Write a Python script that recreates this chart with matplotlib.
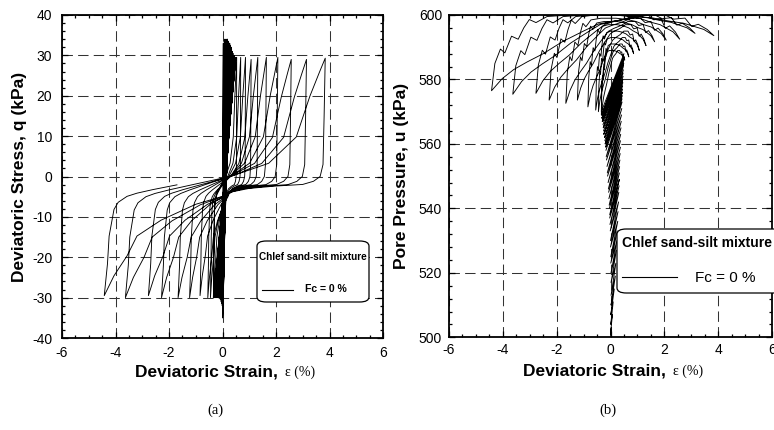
import matplotlib
matplotlib.use("Agg")
import matplotlib.pyplot as plt
from matplotlib.patches import FancyBboxPatch
from matplotlib.lines import Line2D
from matplotlib.ticker import MultipleLocator

plt.rcParams['font.family'] = ['Liberation Sans', 'DejaVu Sans']
plt.rcParams['axes.unicode_minus'] = False

# --- pre-liquefaction cycles ---
early_hi_strain = [0.03, 0.07, 0.10, 0.14, 0.18, 0.20, 0.22, 0.24, 0.25, 0.27, 0.28, 0.30,
                   0.31, 0.32, 0.33, 0.33, 0.34, 0.35, 0.36, 0.37, 0.37, 0.38, 0.39, 0.40,
                   0.41, 0.42, 0.43, 0.43, 0.44, 0.44, 0.45, 0.45, 0.46, 0.46, 0.47, 0.47,
                   0.48, 0.48, 0.49, 0.49, 0.49, 0.49, 0.50, 0.50, 0.50]
early_lo_strain = [0.00, 0.01, 0.01, 0.02, 0.02, 0.02, 0.02, 0.01, 0.01, 0.00, 0.00, -0.01,
                   -0.02, -0.03, -0.03, -0.04, -0.05, -0.06, -0.07, -0.08, -0.09, -0.11,
                   -0.12, -0.13, -0.15, -0.16, -0.17, -0.18, -0.19, -0.20, -0.21, -0.22,
                   -0.24, -0.25, -0.26, -0.27, -0.28, -0.29, -0.30, -0.31, -0.31, -0.32,
                   -0.32, -0.33, -0.34]
early_hi_q = [33.0, 34.0, 34.0, 34.0, 34.0, 33.5, 33.5, 33.0, 33.0, 33.0, 32.5, 32.5,
              32.0, 32.0, 32.0, 31.5, 31.5, 31.0, 31.0, 31.0, 30.5, 30.5, 30.5, 30.0,
              30.0, 30.0, 30.0, 30.0, 29.5, 29.5, 29.5, 29.5, 29.5, 29.5, 29.5, 29.5,
              29.5, 29.5, 29.5, 29.5, 29.5, 29.5, 29.5, 29.5, 29.5]
early_lo_q = [-35.0, -35.0, -34.5, -34.0, -34.0, -33.5, -33.0, -33.0, -32.5, -32.5, -32.0, -32.0,
              -31.5, -31.5, -31.0, -31.0, -31.0, -30.5, -30.5, -30.5, -30.0, -30.0, -30.0, -30.0,
              -30.0, -30.0, -30.0, -30.0, -30.0, -30.0, -30.0, -30.0, -30.0, -30.0, -30.0, -30.0,
              -30.0, -30.0, -30.0, -30.0, -30.0, -30.0, -30.0, -30.0, -30.0]
early_hi_u = [503, 507, 511, 515, 519, 523, 527, 530, 533, 536, 539, 542,
              545, 547, 549, 551, 553, 555, 557, 559, 561, 563, 565, 567,
              569, 571, 573, 574, 575, 576, 577, 578, 579, 580, 581, 582,
              583, 584, 585, 585, 586, 586, 587, 587, 588]
early_lo_u = [501, 504, 507, 510, 513, 517, 520, 523, 525, 528, 530, 533,
              535, 537, 538, 540, 541, 543, 545, 546, 548, 550, 551, 553,
              555, 556, 558, 559, 560, 560, 561, 562, 563, 563, 564, 565,
              566, 567, 567, 567, 568, 568, 569, 569, 570]

# --- large post-liquefaction cycles ---
big_hi_strain = [0.53, 0.68, 0.86, 1.07, 1.32, 1.64, 2.07, 2.57, 3.14, 3.84]
big_lo_strain = [-0.34, -0.45, -0.55, -0.84, -1.23, -1.66, -2.28, -2.77, -3.63, -4.42]
big_hi_q = [29.5, 29.5, 29.5, 29.0, 29.5, 29.5, 29.5, 29.0, 29.0, 29.3]
big_lo_q = [-30.0, -30.0, -30.0, -29.5, -30.0, -30.0, -30.0, -29.5, -30.0, -29.5]
big_hi_u = [586.0, 587.0, 588.0, 589.0, 590.5, 591.7, 592.2, 592.5, 594.3, 593.6]
big_lo_u = [569.0, 570.0, 570.5, 571.5, 573.6, 572.6, 573.6, 575.7, 575.4, 576.5]
big_top_u = [589.0, 591.0, 593.0, 595.0, 597.0, 598.0, 599.0, 600.0, 600.0, 600.0]

# last, unfinished extension after the -4.42 % peak
tail_end_fraction = 0.52
tail_top_u = 600.0

# loop shape read from the widest cycle (fraction of strain span, q in kPa)
ext_s = [0.0, 0.0145, 0.022, 0.044, 0.063, 0.103, 0.148, 0.22, 0.329, 0.523,
         0.584, 0.717, 0.855, 0.923, 0.971, 1.0]
ext_q = [-30.0, -22.0, -15.0, -8.3, -6.5, -5.0, -4.2, -3.3, -2.1, 0.0,
         1.0, 3.3, 9.85, 20.0, 26.0, 29.5]
comp_s = [0.0, 0.005, 0.010, 0.023, 0.053, 0.102, 0.223, 0.344, 0.416, 0.465,
          0.586, 0.743, 0.852, 0.897, 0.956, 1.0]
comp_q = [29.5, 15.0, 3.0, 0.0, -1.2, -2.0, -2.4, -3.0, -3.8, -5.0,
          -7.0, -11.0, -15.0, -20.0, -25.0, -30.0]

# pore pressure shape: weight toward plateau (rise part) then away from it (fall part)
ext_u_s = [0.0, 0.015, 0.04, 0.06, 0.09, 0.12, 0.145, 0.17, 0.2, 0.25, 0.35,
           0.5, 0.6, 0.7, 0.78, 0.85, 0.9, 0.95, 1.0]
ext_u_w = [0.0, 0.36, 0.55, 0.5, 0.72, 0.68, 0.83, 0.94, 0.9, 0.98, 1.0,
           0.0, 0.05, 0.15, 0.3, 0.4, 0.55, 0.7, 1.0]
comp_u_s = [0.0, 0.03, 0.07, 0.1, 0.13, 0.18, 0.22, 0.3, 0.38, 0.46, 0.52,
            0.585, 0.68, 0.767, 0.84, 0.9, 0.952, 1.0]
comp_u_w = [0.0, 0.3, 0.55, 0.45, 0.85, 0.8, 1.0, 0.0, 0.05, 0.085, 0.12,
            0.21, 0.35, 0.51, 0.62, 0.72, 0.84, 1.0]


def scale_q(tq, q_lo, q_hi):
  if tq < 0:
    return tq * abs(q_lo) / 30.0
  return tq * q_hi / 29.5


def add_extension(paths, e0, e1, q_lo, q_hi, u_lo, top, u_hi, s_max=1.0):
  e_q, q, e_u, u = paths
  for s, tq in zip(ext_s, ext_q):
    if s > s_max:
      break
    e_q.append(e0 + s * (e1 - e0))
    q.append(scale_q(tq, q_lo, q_hi))
  for s, w in zip(ext_u_s, ext_u_w):
    if s > s_max:
      break
    e_u.append(e0 + s * (e1 - e0))
    if s <= 0.45:
      u.append(u_lo + (top - u_lo) * w)
    else:
      u.append(top - (top - u_hi) * w)


def add_compression(paths, e0, e1, q_lo, q_hi, u_hi, top, u_lo):
  e_q, q, e_u, u = paths
  for s, tq in zip(comp_s, comp_q):
    e_q.append(e0 + s * (e1 - e0))
    q.append(scale_q(tq, q_lo, q_hi))
  for s, w in zip(comp_u_s, comp_u_w):
    e_u.append(e0 + s * (e1 - e0))
    if s <= 0.25:
      u.append(u_hi + (top - u_hi) * w)
    else:
      u.append(top - (top - u_lo) * w)


def build_paths():
  e_q, q = [0.0], [0.0]
  e_u, u = [0.0], [500.0]
  for k in range(len(early_hi_strain)):
    e_q += [early_hi_strain[k], early_lo_strain[k]]
    q += [early_hi_q[k], early_lo_q[k]]
    e_u += [early_hi_strain[k], early_lo_strain[k]]
    u += [early_hi_u[k], early_lo_u[k]]
  paths = (e_q, q, e_u, u)

  prev_e, prev_q, prev_u = early_lo_strain[-1], early_lo_q[-1], early_lo_u[-1]
  for i in range(len(big_hi_strain)):
    add_extension(paths, prev_e, big_hi_strain[i], prev_q, big_hi_q[i],
                  prev_u, big_top_u[i], big_hi_u[i])
    add_compression(paths, big_hi_strain[i], big_lo_strain[i], big_lo_q[i],
                    big_hi_q[i], big_hi_u[i], big_top_u[i], big_lo_u[i])
    prev_e, prev_q, prev_u = big_lo_strain[i], big_lo_q[i], big_lo_u[i]
  add_extension(paths, prev_e, big_hi_strain[-1], prev_q, big_hi_q[-1],
                prev_u, tail_top_u, big_hi_u[-1], s_max=tail_end_fraction)
  return paths


def style_axis(ax, ylim, ymajor, yminor, xpad, ypad):
  ax.set_xlim(-6, 6)
  ax.set_ylim(*ylim)
  ax.xaxis.set_major_locator(MultipleLocator(2))
  ax.xaxis.set_minor_locator(MultipleLocator(0.5))
  ax.yaxis.set_major_locator(MultipleLocator(ymajor))
  ax.yaxis.set_minor_locator(MultipleLocator(yminor))
  ax.tick_params(which='both', direction='in', top=True, right=True, width=0.9,
                 labelsize=10)
  ax.tick_params(axis='x', pad=xpad)
  ax.tick_params(axis='y', pad=ypad)
  ax.tick_params(which='major', length=4)
  ax.tick_params(which='minor', length=2.5)
  ax.grid(True, which='major', color='#333333', lw=0.75, ls=(0, (10, 5)))
  for sp in ax.spines.values():
    sp.set_linewidth(1.3)
  ax.text(0.672, -0.105, "Deviatoric Strain,", transform=ax.transAxes,
          ha='right', va='center', fontsize=12.5, fontweight='bold')
  ax.text(0.695, -0.105, "\u03b5 (%)", transform=ax.transAxes, ha='left',
          va='center', fontsize=10, family=['Liberation Serif', 'DejaVu Serif'])


e_q, q, e_u, u = build_paths()

fig = plt.figure(figsize=(7.74, 4.30), dpi=100)
ax1 = fig.add_axes([62 / 774, 92 / 430, 321 / 774, 323 / 430])
ax2 = fig.add_axes([449 / 774, 92.7 / 430, 323 / 774, 322.3 / 430])

ax1.plot(e_q, q, color='k', lw=0.65)
style_axis(ax1, (-40, 40), 10, 2, 6, 7)
ax1.set_ylabel("Deviatoric Stress, q (kPa)", fontsize=12.5, fontweight='bold')
ax1.yaxis.set_label_coords(-0.109, 0.5)

ax2.plot(e_u, u, color='k', lw=0.65)
style_axis(ax2, (500, 600), 20, 4, 4, 5)
ax2.set_ylabel("Pore Pressure, u (kPa)", fontsize=12.5, fontweight='bold')
ax2.yaxis.set_label_coords(-0.124, 0.5)


def fx(px):
  return px / 774


def fy(py):
  return 1 - py / 430


# legend (a)
fig.patches.append(FancyBboxPatch((fx(257), fy(302)), fx(112), 61 / 430,
                                  boxstyle="round,pad=0,rounding_size=0.012",
                                  transform=fig.transFigure, fc='white', ec='k', lw=0.9))
fig.text(fx(313), fy(257), "Chlef sand-silt mixture", ha='center', va='center',
         fontsize=7.2, fontweight='bold')
fig.lines.append(Line2D([fx(262), fx(293)], [fy(290), fy(290)], color='k', lw=0.8,
                        transform=fig.transFigure))
fig.text(fx(326), fy(289), "Fc = 0 %", ha='center', va='center',
         fontsize=7.5, fontweight='bold')

# legend (b)
fig.patches.append(FancyBboxPatch((fx(617), fy(293)), fx(175), 64 / 430,
                                  boxstyle="round,pad=0,rounding_size=0.012",
                                  transform=fig.transFigure, fc='white', ec='k', lw=0.9))
fig.text(fx(622), fy(243), "Chlef sand-silt mixture", ha='left', va='center',
         fontsize=10, fontweight='bold')
fig.lines.append(Line2D([fx(622), fx(677)], [fy(277), fy(277)], color='k', lw=0.8,
                        transform=fig.transFigure))
fig.text(fx(695), fy(278), "Fc = 0 %", ha='left', va='center', fontsize=11)

serif = ['Liberation Serif', 'DejaVu Serif']
fig.text(fx(215), fy(410), "(a)", ha='center', va='center', fontsize=10.5, family=serif)
fig.text(fx(608), fy(410), "(b)", ha='center', va='center', fontsize=10.5, family=serif)

fig.savefig("out.png", dpi=100)
